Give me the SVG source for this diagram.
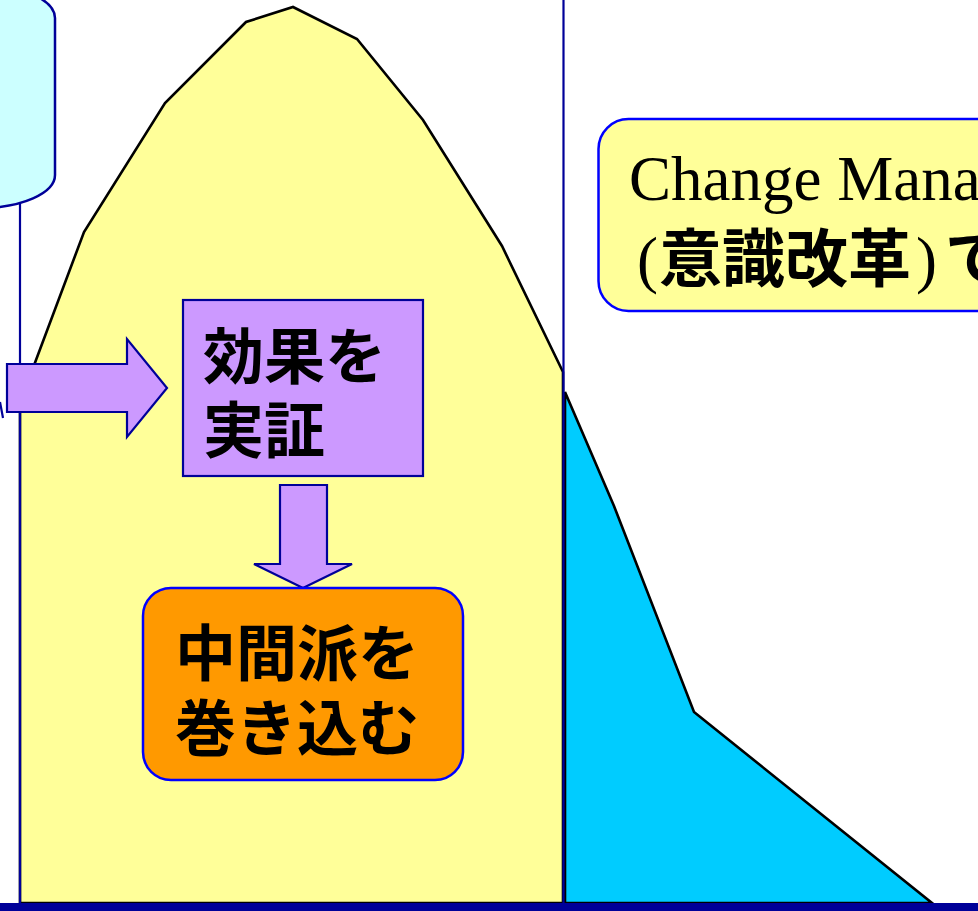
<svg xmlns="http://www.w3.org/2000/svg" width="978" height="911" viewBox="0 0 978 911">
<style>
.curve{stroke:#000;stroke-width:2.6;stroke-linejoin:miter}
.navy{stroke:#000099;stroke-width:2.2;fill:none}
.blk{fill:#CC99FF;stroke:#000099;stroke-width:2.2}
.rbox{stroke:#0000FF;stroke-width:2.5}
.jp{font-family:"Noto Sans CJK JP","Noto Sans",sans-serif;font-weight:bold;fill:#000}
.serif{font-family:"Liberation Serif","Times New Roman",serif;font-weight:normal;fill:#000}
</style>
<rect x="0" y="0" width="978" height="911" fill="#FFFFFF"/>
<g id="adopters-late">
<polygon points="565,392 614,506 694,712 932,903 565,903" fill="#00CCFF" class="curve"/>
</g>
<g id="adopters-main">
<polygon points="20,903 20,403 36,360 84,232 165,103 246,22 293,7 357,39 423,120 502,246 563,372 563,903" fill="#FFFF99" class="curve"/>
</g>
<g id="guides">
<line x1="20" y1="203" x2="20" y2="903" class="navy"/>
<line x1="563.5" y1="0" x2="563.5" y2="903" class="navy"/>
<rect x="0" y="903" width="978" height="8" fill="#000099"/>
</g>
<g id="cylinder">
<path d="M -95,18 A 75 33 0 0 1 55 18 L 55 175 A 75 33 0 0 1 -95 175 Z" fill="#CCFFFF" stroke="#000099" stroke-width="2.5"/>
</g>
<g id="connectors">
<path d="M0,402 L3,418" class="navy"/>
<polygon points="7,364 127,364 127,339 167,388 127,437 127,412 7,412" class="blk"/>
<polygon points="280,485 327,485 327,564 352,564 303,588 254,564 280,564" class="blk"/>
</g>
<g id="node-jisshou">
<rect x="183" y="300" width="240" height="176" class="blk"/>
<text class="jp" x="203" y="379" font-size="61">効果を</text>
<text class="jp" x="203" y="453" font-size="61">実証</text>
</g>
<g id="node-chukan">
<rect x="143" y="588" width="320" height="192" rx="28" ry="28" fill="#FF9900" class="rbox"/>
<text class="jp" x="175" y="676" font-size="61">中間派を</text>
<text class="jp" x="175" y="751" font-size="61">巻き込む</text>
</g>
<g id="node-change">
<rect x="598.5" y="119" width="420" height="192" rx="30" ry="30" fill="#FFFF99" class="rbox"/>
<text class="serif" x="629" y="200" font-size="63">Change Mana</text>
<text y="281" font-size="63"><tspan class="serif" x="637">(</tspan><tspan class="jp" x="659">意識改革</tspan><tspan class="serif" x="916">)</tspan><tspan class="jp" x="945">で</tspan></text>
</g>
</svg>
